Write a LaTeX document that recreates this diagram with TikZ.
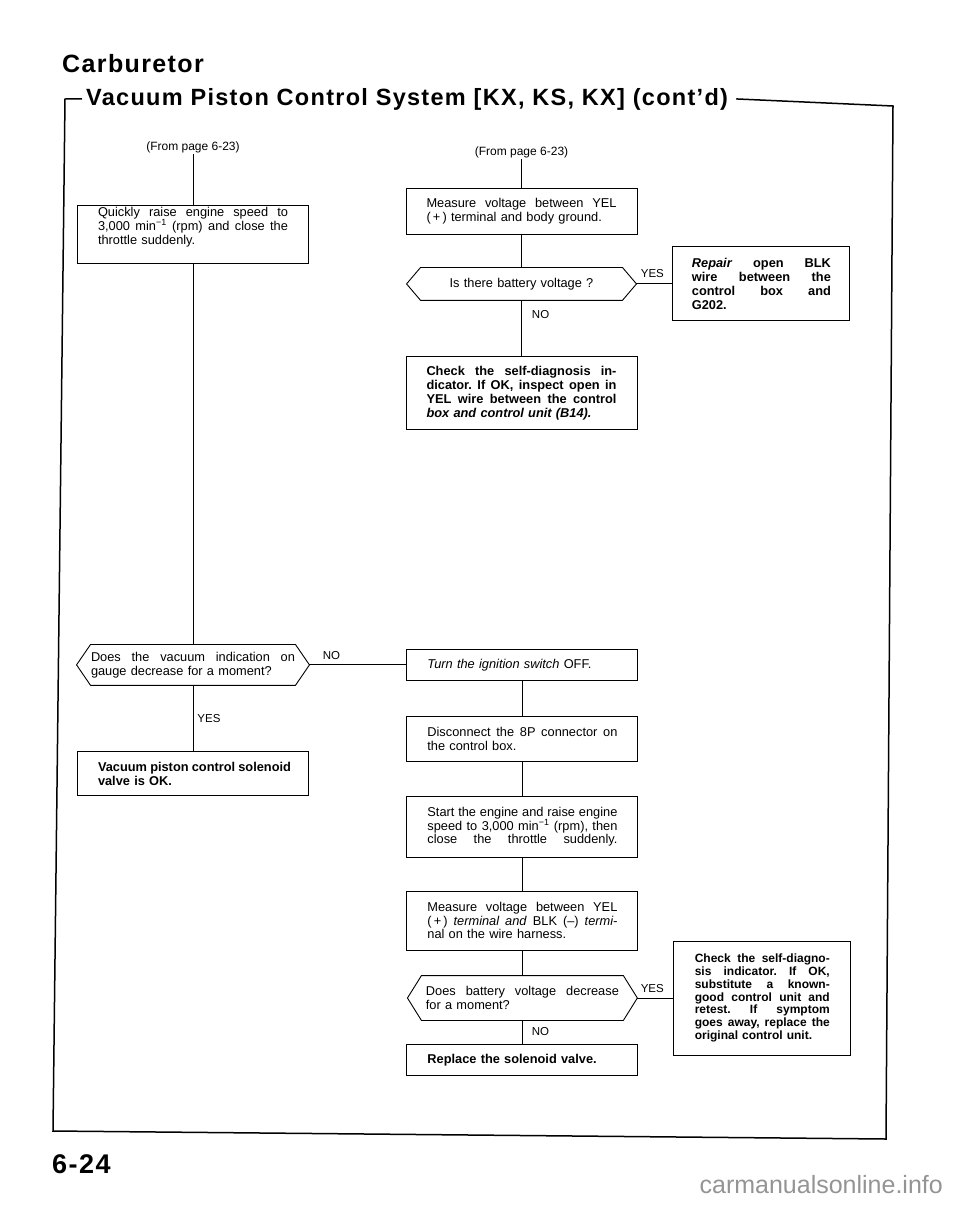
\documentclass[tikz,border=0pt]{standalone}
\usepackage{fontspec}
\setmainfont{Liberation Sans}
\newfontfamily\headfont[LetterSpace=5.5]{Liberation Sans}
\usetikzlibrary{positioning}

\newcommand{\spread}[2][190pt]{\makebox[#1][s]{\spaceskip=.278em plus 1fil minus .03em\relax #2}}
\newcommand{\hexframe}[1]{%
  \draw[boxline] (#1.west) -- ([xshift=14pt]#1.north west) -- ([xshift=-14pt]#1.north east)
    -- (#1.east) -- ([xshift=-14pt]#1.south east) -- ([xshift=14pt]#1.south west) -- cycle;}

\tikzset{
  boxline/.style={line width=0.9pt},
  frameline/.style={line width=1.5pt},
  stepbox/.style={draw, boxline, minimum width=231pt, text width=190pt, inner xsep=0pt,
    inner ysep=2pt, align=left, font=\fontsize{12.8}{13.8}\selectfont\frenchspacing},
  boldbox/.style={stepbox, font=\fontsize{12.8}{13.8}\selectfont\bfseries\frenchspacing},
  sidebox/.style={boldbox, minimum width=177pt, text width=139pt},
  query/.style={stepbox, draw=none, minimum width=229pt},
  fromtext/.style={font=\fontsize{12}{14}\selectfont, inner sep=1pt},
  answer/.style={font=\fontsize{11.5}{13}\selectfont, inner sep=1pt},
}

\begin{document}
\begin{tikzpicture}[x=1pt,y=-1pt]
\useasboundingbox (0,0) rectangle (960,1205);

\node[anchor=base west, inner sep=0pt, font=\headfont\bfseries\fontsize{25}{28}\selectfont] (carb) at (62,72) {Carburetor};
\node[anchor=base west, inner sep=0pt, font=\headfont\bfseries\fontsize{23.5}{26}\selectfont] (system) at (86,105) {Vacuum Piston Control System [KX, KS, KX] (cont’d)};
\draw[frameline] ([xshift=-4pt]system.west) -- (65,99) -- (53,1131) -- (886,1139) -- (893,106) -- ([xshift=8pt]system.east);
\node[anchor=base west, inner sep=0pt, font=\headfont\bfseries\fontsize{27}{30}\selectfont] (pageno) at (52,1173) {6-24};
\node[anchor=base east, inner sep=0pt, text=black!42, font=\fontsize{25}{28}\selectfont] (mark) at (943,1193) {carmanualsonline.info};

% left column
\node[fromtext] (fromL) at (193,147) {(From page 6-23)};
\node[stepbox, minimum height=58pt] (quick) at (193,234) {\spread{Quickly raise engine speed to}\\
  \spread{3,000 min\textsuperscript{−1} (rpm) and close the}\\
  throttle suddenly.\\[3pt]\mbox{}};
\node[query, minimum width=232pt, text width=204pt, minimum height=40pt] (gaugeq) [below=381pt of quick] {\spread[204pt]{Does the vacuum indication on}\\
  gauge decrease for a moment?};
\node[boldbox, minimum height=44pt] (okvalve) [below=66pt of gaugeq] {\spread{Vacuum piston control solenoid}\\
  valve is OK.};

% centre column
\node[fromtext] (fromC) at (521.5,152) {(From page 6-23)};
\node[stepbox, minimum height=46pt] (measA) at (521.5,211) {\spread{Measure voltage between YEL}\\
  (\,+\,) terminal and body ground.};
\node[query, align=center, minimum height=32pt] (battq) [below=33pt of measA] {Is there battery voltage ?};
\node[boldbox, minimum height=73pt] (checkA) [below=56pt of battq] {\spread{Check the self-diagnosis in-}\\
  \spread{dicator. If OK, inspect open in}\\
  \spread{YEL wire between the control}\\
  \textit{box and control unit (B14).}};
\node[sidebox, minimum height=74pt] (repair) [right=36pt of battq] {\spread[139pt]{\textit{Repair} open BLK}\\
  \spread[139pt]{wire between the}\\
  \spread[139pt]{control box and}\\
  G202.};

\node[stepbox, minimum height=31pt] (ignoff) [right=97pt of gaugeq] {\textit{Turn the ignition switch} OFF.};
\node[stepbox, minimum height=45pt] (unplug) [below=35pt of ignoff] {\spread{Disconnect the 8P connector on}\\
  the control box.};
\node[stepbox, minimum height=61pt] (restart) [below=34pt of unplug] {\spread{Start the engine and raise engine}\\
  \spread{speed to 3,000 min\textsuperscript{−1} (rpm), then}\\
  \spread{close the throttle suddenly.}};
\node[stepbox, minimum height=59pt] (measB) [below=33pt of restart] {\spread{Measure voltage between YEL}\\
  \spread{(\,+\,) \textit{terminal and} BLK (–) \textit{termi-}}\\
  nal on the wire harness.};
\node[query, text width=193pt, minimum height=44pt] (dropq) [below=25pt of measB] {\spread[193pt]{Does battery voltage decrease}\\
  for a moment?};
\node[boldbox, minimum height=31pt] (replace) [below=24pt of dropq] {Replace the solenoid valve.};
\node[sidebox, text width=135pt, minimum height=114pt, font=\fontsize{12}{12.7}\selectfont\bfseries\frenchspacing] (checkB) [right=36pt of dropq] {\spread[135pt]{Check the self-diagno-}\\
  \spread[135pt]{sis indicator. If OK,}\\
  \spread[135pt]{substitute a known-}\\
  \spread[135pt]{good control unit and}\\
  \spread[135pt]{retest. If symptom}\\
  \spread[135pt]{goes away, replace the}\\
  original control unit.};

\hexframe{gaugeq}
\hexframe{battq}
\hexframe{dropq}

\path[boxline]
  (fromL) edge (quick)
  (quick) edge (gaugeq)
  (gaugeq) edge node[answer, pos=0.5, anchor=west, xshift=3pt] {YES} (okvalve)
  (gaugeq) edge node[answer, pos=0, anchor=south west, xshift=12pt, yshift=4pt] {NO} (ignoff)
  (fromC) edge (measA)
  (measA) edge (battq)
  (battq) edge node[answer, pos=0, anchor=south west, xshift=3pt, yshift=5pt] {YES} (repair)
  (battq) edge node[answer, pos=0.25, anchor=west, xshift=9pt] {NO} (checkA)
  (ignoff) edge (unplug)
  (unplug) edge (restart)
  (restart) edge (measB)
  (measB) edge (dropq)
  (dropq) edge node[answer, pos=0, anchor=south west, xshift=2pt, yshift=4pt] {YES} (checkB)
  (dropq) edge node[answer, pos=0.48, anchor=west, xshift=8pt] {NO} (replace);
\end{tikzpicture}
\end{document}
